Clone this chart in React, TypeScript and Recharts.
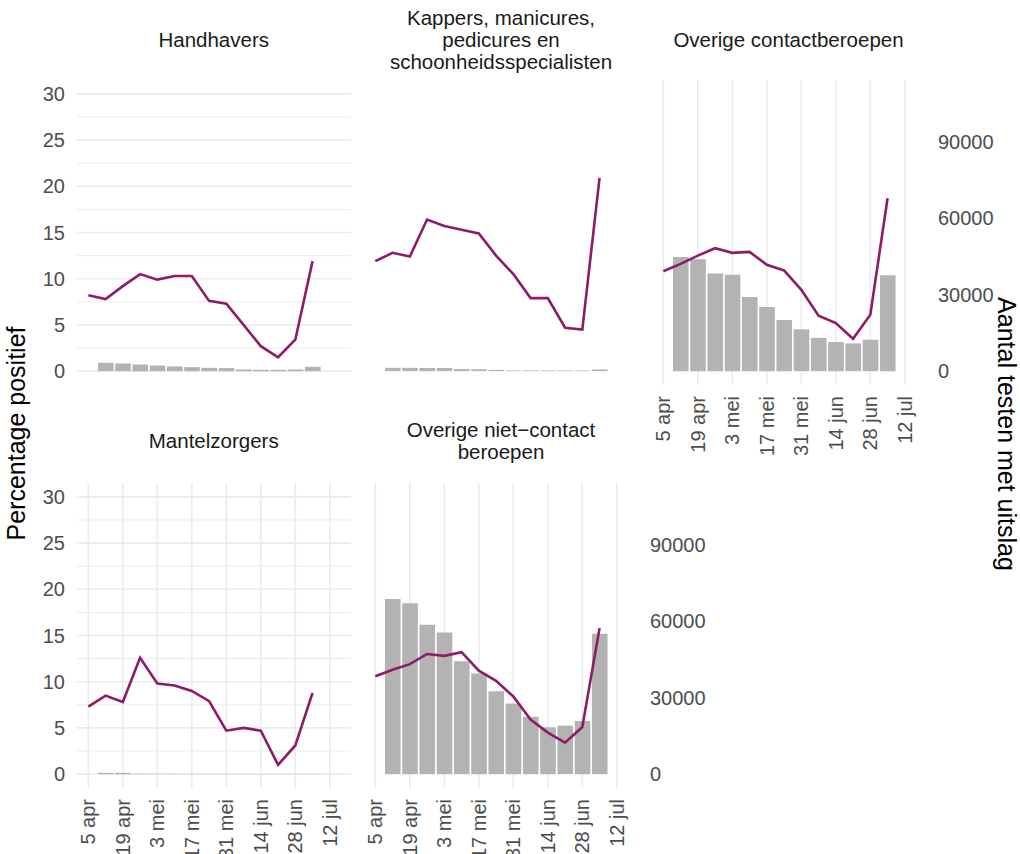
import React from 'react'
import { ComposedChart, Bar, Line, XAxis, YAxis, CartesianGrid } from 'recharts'

// weekly points (line) and weekly test counts (bars, none for the first week)
const WEEKS = [
  '2020-04-05', '2020-04-12', '2020-04-19', '2020-04-26', '2020-05-03', '2020-05-10', '2020-05-17',
  '2020-05-24', '2020-05-31', '2020-06-07', '2020-06-14', '2020-06-21', '2020-06-28', '2020-07-05',
]
const TICK_DATES = ['2020-04-05', '2020-04-19', '2020-05-03', '2020-05-17', '2020-05-31', '2020-06-14', '2020-06-28', '2020-07-12']
const TICK_LABELS = ['5 apr', '19 apr', '3 mei', '17 mei', '31 mei', '14 jun', '28 jun', '12 jul']

const PCT_TICKS = [0, 5, 10, 15, 20, 25, 30]
const PCT_MINOR = [2.5, 7.5, 12.5, 17.5, 22.5, 27.5]
const TEST_TICKS = [0, 30000, 60000, 90000]

const HANDHAVERS_PCT = [8.2, 7.8, 9.2, 10.5, 9.9, 10.3, 10.3, 7.6, 7.3, 5.0, 2.7, 1.5, 3.4, 11.9]
const HANDHAVERS_TESTS = [null, 3280, 3010, 2610, 2210, 1850, 1560, 1310, 1200, 650, 510, 510, 650, 1710]

const KAPPERS_PCT = [11.9, 12.8, 12.4, 16.4, 15.7, 15.3, 14.9, 12.5, 10.5, 7.9, 7.9, 4.7, 4.5, 20.9]
const KAPPERS_TESTS = [null, 1310, 1310, 1230, 1230, 800, 730, 510, 290, 290, 250, 250, 250, 650]

const CONTACT_PCT = [10.8, 11.6, 12.5, 13.3, 12.8, 12.9, 11.5, 10.9, 8.8, 6.0, 5.2, 3.5, 6.1, 18.7]
const CONTACT_TESTS = [null, 44870, 43960, 38300, 37900, 29110, 25190, 20070, 16410, 13100, 11400, 10890, 12340, 37640]

const MANTEL_PCT = [7.3, 8.5, 7.8, 12.6, 9.8, 9.6, 9.0, 7.9, 4.7, 5.0, 4.7, 1.0, 3.1, 8.8]
const MANTEL_TESTS = [null, 510, 510, 150, 150, 130, 110, 110, 110, 100, 100, 100, 100, 100]

const NONCONTACT_PCT = [10.6, 11.3, 11.9, 13.0, 12.8, 13.2, 11.2, 10.1, 8.4, 5.9, 4.5, 3.4, 5.1, 15.8]
const NONCONTACT_TESTS = [null, 68750, 67160, 58700, 55580, 44360, 39530, 32600, 27770, 22580, 18400, 19060, 20870, 55180]

const DAY = 86400000
const dayOf = (d: string) => (Date.parse(d) - Date.parse(WEEKS[0])) / DAY
const TICK_DAYS = TICK_DATES.map(dayOf)

const X_DOMAIN = [-4.6, 106.6]
const PCT_DOMAIN = [-1.5, 31.5]
const SEC_FACTOR = 3630
const TEST_DOMAIN = [PCT_DOMAIN[0] * SEC_FACTOR, PCT_DOMAIN[1] * SEC_FACTOR]

const LINE_COLOR = '#8E1B68'
const BAR_COLOR = '#B3B3B3'
const GRID = '#EBEBEB'
const TICK_COLOR = '#4D4D4D'
const FONT = '"Liberation Sans", Arial, sans-serif'

const COL_X = [76.7, 364, 651.5]
const ROW_Y = [80, 482.5]
const PW = 274
const PH = 305
const LW = 70
const RW = 100
const XH = 70

const buildRows = (pct: number[], tests: (number | null)[]) =>
  WEEKS.map((w, i) => ({ day: dayOf(w), pct: pct[i], tests: tests[i] }))

const PANELS = [
  { title: ['Handhavers'], rows: buildRows(HANDHAVERS_PCT, HANDHAVERS_TESTS), col: 0, row: 0, left: true, right: false, xl: false },
  { title: ['Kappers, manicures,', 'pedicures en', 'schoonheidsspecialisten'], rows: buildRows(KAPPERS_PCT, KAPPERS_TESTS), col: 1, row: 0, left: false, right: false, xl: false },
  { title: ['Overige contactberoepen'], rows: buildRows(CONTACT_PCT, CONTACT_TESTS), col: 2, row: 0, left: false, right: true, xl: true },
  { title: ['Mantelzorgers'], rows: buildRows(MANTEL_PCT, MANTEL_TESTS), col: 0, row: 1, left: true, right: false, xl: true },
  { title: ['Overige niet\u2212contact', 'beroepen'], rows: buildRows(NONCONTACT_PCT, NONCONTACT_TESTS), col: 1, row: 1, left: false, right: true, xl: true },
]

// baselines of strip text, per row, keyed by number of lines
const STRIP_BASE: Record<number, Record<number, number>> = {
  0: { 1: 47.3, 3: 25.3 },
  1: { 1: 448.3, 2: 437.3 },
}
const STRIP_LH = 22

function DateTick(props: any) {
  const { x, y, payload } = props
  const idx = TICK_DAYS.indexOf(payload.value)
  return (
    <text
      x={x}
      y={y}
      transform={`rotate(-90 ${x} ${y})`}
      textAnchor="end"
      dominantBaseline="central"
      fontSize={20}
      fill={TICK_COLOR}
    >
      {idx >= 0 ? TICK_LABELS[idx] : ''}
    </text>
  )
}

function Panel({ p }: { p: (typeof PANELS)[number] }) {
  return (
    <div style={{ position: 'absolute', left: COL_X[p.col] - LW, top: ROW_Y[p.row] }}>
      <ComposedChart width={LW + PW + RW} height={PH + XH} data={p.rows} margin={{ top: 0, right: 0, bottom: 0, left: 0 }}>
        <XAxis
          dataKey="day"
          type="number"
          domain={X_DOMAIN}
          allowDataOverflow
          ticks={TICK_DAYS}
          interval={0}
          height={XH}
          axisLine={false}
          tickLine={false}
          tickSize={0}
          tickMargin={11}
          tick={p.xl ? <DateTick /> : false}
        />
        <YAxis
          yAxisId="left"
          orientation="left"
          domain={PCT_DOMAIN}
          allowDataOverflow
          ticks={PCT_TICKS}
          interval={0}
          width={LW}
          axisLine={false}
          tickLine={false}
          tickSize={0}
          tickMargin={12}
          tick={p.left ? { fill: TICK_COLOR, fontSize: 20 } : false}
        />
        <YAxis
          yAxisId="right"
          orientation="right"
          domain={TEST_DOMAIN}
          allowDataOverflow
          ticks={TEST_TICKS}
          interval={0}
          width={RW}
          axisLine={false}
          tickLine={false}
          tickSize={0}
          tickMargin={12}
          tick={p.right ? { fill: TICK_COLOR, fontSize: 20 } : false}
        />
        <CartesianGrid
          yAxisId="left"
          horizontal
          vertical={false}
          horizontalValues={PCT_MINOR}
          stroke={GRID}
          strokeWidth={1}
        />
        <CartesianGrid
          yAxisId="left"
          horizontalValues={PCT_TICKS}
          verticalValues={TICK_DAYS}
          stroke={GRID}
          strokeWidth={1.6}
        />
        <Bar yAxisId="right" dataKey="tests" fill={BAR_COLOR} barSize={15.6} isAnimationActive={false} />
        <Line
          yAxisId="left"
          type="linear"
          dataKey="pct"
          stroke={LINE_COLOR}
          strokeWidth={2.6}
          dot={false}
          isAnimationActive={false}
        />
      </ComposedChart>
    </div>
  )
}

export default function App() {
  return (
    <div style={{ position: 'absolute', left: 0, top: 0, width: 1020, height: 854, background: '#fff', fontFamily: FONT }}>
      <svg width={1020} height={854} style={{ position: 'absolute', left: 0, top: 0 }}>
        {PANELS.map((p, i) => {
          const cx = COL_X[p.col] + PW / 2
          const base = STRIP_BASE[p.row][p.title.length]
          return (
            <text key={i} x={cx} fontSize={20.5} fill="#1A1A1A" textAnchor="middle">
              {p.title.map((t, j) => (
                <tspan key={j} x={cx} y={base + j * STRIP_LH}>
                  {t}
                </tspan>
              ))}
            </text>
          )
        })}
        <text transform="translate(25,433.5) rotate(-90)" textAnchor="middle" fontSize={25} fill="#000">
          Percentage positief
        </text>
        <text transform="translate(998,434) rotate(90)" textAnchor="middle" fontSize={25} fill="#000">
          Aantal testen met uitslag
        </text>
      </svg>
      {PANELS.map((p, i) => (
        <Panel key={i} p={p} />
      ))}
    </div>
  )
}
